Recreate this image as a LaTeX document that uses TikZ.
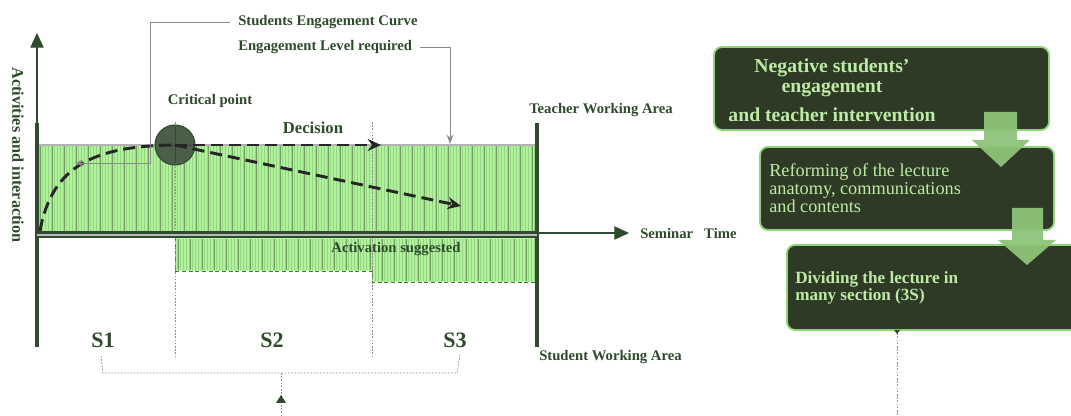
\documentclass[tikz,border=0pt]{standalone}
\usepackage{fontspec}
\setmainfont{Liberation Serif}
\usetikzlibrary{arrows.meta}
\definecolor{dg}{HTML}{2D4A2A}
\definecolor{axisc}{HTML}{2F4A2C}
\definecolor{fillg}{HTML}{B0F59C}
\definecolor{hatchc}{HTML}{96D484}
\definecolor{hatchd}{HTML}{6F9E60}
\definecolor{boxf}{HTML}{2E3A26}
\definecolor{boxd}{HTML}{8FD47A}
\definecolor{boxt}{HTML}{BDEBA5}
\definecolor{arrf}{HTML}{8DC47A}
\definecolor{conn}{HTML}{8A8A8A}
\definecolor{critc}{HTML}{4B5E48}
\tikzset{
  lbl/.style={text=dg, font=\bfseries\fontsize{11}{13}\selectfont, inner sep=0pt},
  sbig/.style={text=dg, font=\bfseries\fontsize{16.5}{18}\selectfont, inner sep=0pt},
  hatch/.style={draw=hatchc, line width=0.7},
  hatchdark/.style={draw=hatchd, line width=0.7},
  thickax/.style={draw=axisc, line width=3},
  guide/.style={draw=conn, line width=0.6},
  dotguide/.style={draw=conn, line width=0.6, dash pattern=on 1.2pt off 1.2pt},
  curve/.style={draw=black!85, line width=2.2, dash pattern=on 9pt off 4.5pt},
  flowbox/.style={draw=boxd, fill=boxf, line width=1.4, rounded corners=6},
  blockarrow/.style={fill=arrf, draw=none, opacity=0.95},
  boxtxt/.style={text=boxt, inner sep=0pt, align=left},
}
\begin{document}
\begin{tikzpicture}[x=0.75pt,y=-0.75pt]
\useasboundingbox (0,0) rectangle (1071,416);
\clip (0,0) rectangle (1071,416);

% upper engagement area
\fill[fillg] (37,145) rectangle (537,232);
\foreach \x in {39,42,...,535} \draw[hatch] (\x,146) -- (\x,231);
\foreach \x in {40,52,...,535} \draw[hatchdark] (\x,146) -- (\x,231);
\draw[draw=gray!60, line width=0.8] (37,145) -- (537,145);
\draw[draw=hatchd!70!black, line width=0.6, dash pattern=on 3pt off 2pt] (37,145) -- (37,232) -- (537,232);

% activation area
\fill[fillg] (175,238) -- (537,238) -- (537,282) -- (372,282) -- (372,271) -- (175,271) -- cycle;
\foreach \x in {177,180,...,535} {
  \pgfmathsetmacro{\yb}{\x<372 ? 270 : 281}
  \draw[hatch] (\x,239) -- (\x,\yb);
}
\foreach \x in {178,190,...,535} {
  \pgfmathsetmacro{\yb}{\x<372 ? 270 : 281}
  \draw[hatchdark] (\x,239) -- (\x,\yb);
}
\draw[draw=hatchd!70!black, line width=0.6, dash pattern=on 3pt off 2pt] (175,238) -- (175,271) -- (372,271) -- (372,282) -- (537,282);

% section separators
\draw[dotguide] (175,122) -- (175,357);
\draw[dotguide] (372,122) -- (372,357);

% axes
\coordinate (yb) at (37,347);
\coordinate (ym) at (37,123);
\coordinate (yt) at (37,33);
\draw[thickax] (yb) -- (ym);
\draw[draw=axisc, line width=0.8, -{Triangle[length=11pt,width=10pt]}] (ym) -- (yt);
\coordinate (rb) at (537,347);
\coordinate (rt) at (537,123);
\draw[thickax] (rb) -- (rt);
\fill[axisc] (37,231) rectangle (537,238.5);
\draw[draw=gray!55, line width=1.6] (37,234.6) -- (537,234.6);
\coordinate (xs) at (537,233);
\coordinate (xe) at (629,233);
\draw[draw=axisc, line width=0.8, -{Triangle[length=11pt,width=10pt]}] (xs) -- (xe);

% labels
\node[lbl, rotate=-90, font=\bfseries\fontsize{12.2}{14}\selectfont] (ylab) at (18,155) {Activities and interaction};
\node[lbl, anchor=west] (seminar) at (640,233) {Seminar\hspace{0.75em}Time};
\node[lbl, anchor=west] (twa) at (529,110) {Teacher Working Area};
\node[lbl, anchor=west] (swa) at (539,357) {Student Working Area};
\node[lbl] (act) at (396,249) {Activation suggested};
\node[lbl] (crit) at (210,101) {Critical point};
\node[text=dg, font=\bfseries\fontsize{12.5}{14}\selectfont, inner sep=0pt] (dec) at (313,128) {Decision};
\node[lbl, anchor=west] (sec) at (238,22) {Students Engagement Curve};
\node[lbl, anchor=west] (elr) at (238,47) {Engagement Level required};
\node[sbig] (s1) at (103,340) {S1};
\node[sbig] (s2) at (272,340) {S2};
\node[sbig] (s3) at (455,340) {S3};

% engagement curve
\coordinate (c0) at (40,231);
\node[circle, minimum size=30, inner sep=0pt, fill=critc, draw=axisc, line width=0.8] (cp) at (175,145) {};
\draw[draw=axisc, line width=0.6] (175,127) -- (175,163) (158,145) -- (192,145);
\coordinate (d1) at (381,145);
\coordinate (d2) at (461,206);
\draw[curve] (c0) .. controls (52,165) and (95,146) .. (cp.center);
\draw[curve, -{Stealth[length=10pt,width=9pt]}] (cp.center) -- (d1);
\draw[curve, -{Stealth[length=10pt,width=9pt]}] (cp.center) -- (d2);

% guide connectors
\coordinate (g1) at (75,163);
\draw[guide, -{Stealth[length=6pt,width=5pt]}] (sec.west) ++(-8,0) -| (150,163) -- (g1);
\coordinate (g2) at (450,144);
\draw[guide, -{Stealth[length=7pt,width=5pt]}] (elr.east) ++(8,0) -| (g2);

% bracket
\coordinate (bl) at (101,356);
\coordinate (br) at (460,355);
\coordinate (bm) at (281,373);
\coordinate (bbot) at (281,416);
\draw[dotguide] (bl) -- (103,373) -- (bm);
\draw[dotguide] (br) -- (457,373) -- (bm);
\draw[dotguide] (bm) -- (bbot);
\fill[axisc] (281,395) -- (286,403) -- (276,403) -- cycle;

% right flow
\draw[flowbox] (714,47) rectangle (1049,130);
\node[boxtxt, align=center, font=\bfseries\fontsize{14.8}{15.5}\selectfont] (b1) at (832,90) {Negative students’\\engagement\\[6pt]and teacher intervention};
\draw[flowbox] (760,147) rectangle (1054,230);
\node[boxtxt, anchor=north west, font=\fontsize{13.7}{13.6}\selectfont] (b2) at (769,163) {Reforming of the lecture\\anatomy, communications\\and contents};
\draw[flowbox] (787,245) rectangle (1090,330);
\node[boxtxt, anchor=north west, font=\bfseries\fontsize{12.85}{12.8}\selectfont] (b3) at (795,271) {Dividing the lecture in\\many section (3S)};

\fill[blockarrow] (984,112) -- (1017,112) -- (1017,140) -- (1030,140) -- (1001,167) -- (972,140) -- (984,140) -- cycle;
\fill[blockarrow] (1012,208) -- (1043,208) -- (1043,240) -- (1056,240) -- (1027,265) -- (998,240) -- (1012,240) -- cycle;

\coordinate (dt) at (897,330);
\coordinate (db) at (897,416);
\draw[dotguide] (dt) -- (db);
\fill[axisc] (894,330) -- (900,330) -- (897,334) -- cycle;
\end{tikzpicture}
\end{document}
